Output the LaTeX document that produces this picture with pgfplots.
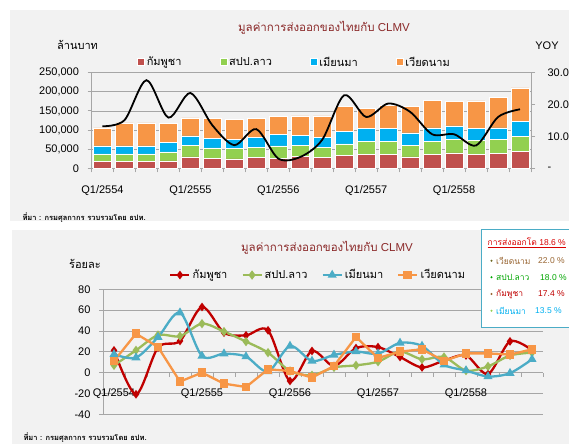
\documentclass[border=0pt]{standalone}
\usepackage{fontspec}
\usepackage{pgfplots}
\pgfplotsset{compat=1.18}
\setmainfont{Liberation Sans}
\newfontfamily\thai[Script=Thai]{Loma}
\definecolor{bgc}{HTML}{F2F2F2}
\definecolor{tc}{HTML}{C0504D}
\definecolor{tl}{HTML}{92D050}
\definecolor{tm}{HTML}{00B0F0}
\definecolor{tv}{HTML}{F79646}
\definecolor{bc}{HTML}{C00000}
\definecolor{bl}{HTML}{9BBB59}
\definecolor{bm}{HTML}{4BACC6}
\definecolor{bv}{HTML}{F79646}
\definecolor{ttl}{HTML}{8B2A2A}
\definecolor{gridc}{HTML}{A6A6A6}
\begin{document}
\begin{tikzpicture}[font=\fontsize{11}{13}\selectfont]
\path[use as bounding box] (0pt,0pt) rectangle (569pt,444pt);
\fill[white] (0pt,0pt) rectangle (569pt,444pt);
\fill[bgc] (10pt,223pt) rectangle (569pt,434pt);
\fill[bgc] (12pt,0pt) rectangle (569pt,214pt);
% ---------- top chart: bars ----------
\begin{axis}[
  at={(91.5pt,275.5pt)}, anchor=south west, scale only axis,
  width=439.5pt, height=96pt,
  xmin=0.5, xmax=20.5, ymin=0, ymax=250000,
  ybar stacked, bar width=0.8,
  axis x line*=bottom, axis y line*=left,
  axis line style={gridc, line width=0.8pt},
  tick align=outside, major tick length=4pt, minor tick length=4pt,
  tick style={gridc, line width=0.8pt},
  xtick={1,5,9,13,17},
  xticklabels={Q1/2554,Q1/2555,Q1/2556,Q1/2557,Q1/2558},
  major x tick style={draw=none},
  minor xtick={0.5,1.5,...,20.5},
  xticklabel style={yshift=-9pt},
  ytick={0,50000,100000,150000,200000,250000}, scaled y ticks=false,
  /pgf/number format/assume math mode=true,
  yticklabel style={xshift=-5pt, /pgf/number format/fixed, /pgf/number format/1000 sep={,}},
  ymajorgrids, grid style={gridc, line width=0.6pt},
  legend columns=4,
  legend style={at={(0.462,1.107)}, anchor=center, draw=none, fill=none,
    font=\thai\fontsize{11}{12}\selectfont,
    /tikz/every even column/.append style={column sep=36pt}},
  legend image code/.code={\fill[#1] (0pt,-3.5pt) rectangle (7pt,3.5pt);},
]
\addplot[fill=tc, draw=white, line width=0.5pt] coordinates {(1,18000) (2,18000) (3,18000) (4,20000) (5,30000) (6,26000) (7,25000) (8,29000) (9,27000) (10,32000) (11,28000) (12,34000) (13,37000) (14,37000) (15,30000) (16,37000) (17,41000) (18,37000) (19,39000) (20,44000)};
\addlegendentry{กัมพูชา}
\addplot[fill=tl, draw=white, line width=0.5pt] coordinates {(1,20000) (2,20000) (3,20000) (4,23500) (5,30000) (6,28000) (7,27000) (8,26000) (9,32000) (10,28000) (11,27000) (12,30000) (13,33000) (14,33000) (15,30000) (16,34000) (17,35000) (18,36000) (19,37000) (20,39000)};
\addlegendentry{สปป.ลาว}
\addplot[fill=tm, draw=white, line width=0.5pt] coordinates {(1,21000) (2,21000) (3,21000) (4,25500) (5,25000) (6,24000) (7,24000) (8,26000) (9,29000) (10,26000) (11,26000) (12,33000) (13,34000) (14,34000) (15,33000) (16,35000) (17,35000) (18,31000) (19,30000) (20,40000)};
\addlegendentry{เมียนมา}
\addplot[fill=tv, draw=white, line width=0.5pt] coordinates {(1,47000) (2,60000) (3,60000) (4,48000) (5,47000) (6,53000) (7,51000) (8,49000) (9,47000) (10,51000) (11,56000) (12,64000) (13,53000) (14,60000) (15,68000) (16,71000) (17,63000) (18,72000) (19,80000) (20,87000)};
\addlegendentry{เวียดนาม}
\end{axis}
% ---------- top chart: YOY line ----------
\begin{axis}[
  at={(91.5pt,275.5pt)}, anchor=south west, scale only axis,
  width=439.5pt, height=96pt,
  xmin=0.5, xmax=20.5, ymin=0, ymax=30,
  axis x line=none, axis y line*=right,
  axis line style={gridc, line width=0.8pt},
  tick align=outside, major tick length=4pt,
  tick style={gridc, line width=0.8pt},
  ytick={0,10,20,30}, yticklabels={-,10.0,20.0,30.0},
  yticklabel style={xshift=9pt},
]
\addplot[black, line width=1.8pt, smooth, mark=none] coordinates {(1,13.2) (2,15.1) (3,27.6) (4,15.9) (5,23.6) (6,13.5) (7,7.3) (8,12.3) (9,3.1) (10,3.6) (11,9.0) (12,22.9) (13,16.1) (14,20.3) (15,17.7) (16,10.7) (17,10.7) (18,7.2) (19,16.1) (20,18.5)};
\end{axis}
\node[text=ttl, font=\fontsize{11.5}{13}\selectfont] at (324pt,416pt) {{\thai มูลค่าการส่งออกของไทยกับ} CLMV};
\node at (77.5pt,399pt) {\thai ล้านบาท};
\node at (547pt,398pt) {YOY};
\node[anchor=west, font=\thai\bfseries\fontsize{7.5}{8}\selectfont] at (19pt,226pt) {ที่มา : กรมศุลกากร รวบรวมโดย ธปท.};
% ---------- bottom chart ----------
\begin{axis}[
  at={(103pt,29.7pt)}, anchor=south west, scale only axis,
  width=440pt, height=125pt,
  xmin=0.5, xmax=20.5, ymin=-40, ymax=80,
  axis x line*=middle, axis y line*=left,
  axis line style={gridc, line width=0.8pt},
  tick align=outside, major tick length=4pt, minor tick length=4pt,
  tick style={gridc, line width=0.8pt},
  xtick={1,5,9,13,17},
  xticklabels={Q1/2554,Q1/2555,Q1/2556,Q1/2557,Q1/2558},
  major x tick style={draw=none},
  minor xtick={0.5,1.5,...,20.5},
  xticklabel style={yshift=-8pt},
  ytick={-40,-20,0,20,40,60,80},
  /pgf/number format/assume math mode=true,
  yticklabel style={xshift=-5pt},
  ymajorgrids, grid style={gridc, line width=0.6pt},
  legend columns=4,
  legend style={at={(0.489,1.114)}, anchor=center, draw=none, fill=none,
    font=\thai\fontsize{11}{12}\selectfont,
    /tikz/every even column/.append style={column sep=12pt}},
  legend image code/.code={\draw[mark repeat=2,mark phase=2,#1] plot coordinates {(0pt,0pt) (9.5pt,0pt) (19pt,0pt)};},
]
\addplot[bc, line width=2.3pt, smooth, mark=diamond*, mark size=2.5pt] coordinates {(1,21.4) (2,-20.8) (3,24) (4,30.4) (5,63) (6,38.4) (7,35.8) (8,40.6) (9,-8) (10,20.8) (11,6.4) (12,23.5) (13,24.5) (14,15) (15,5) (16,11.5) (17,16.5) (18,-1.3) (19,30) (20,21.5)};
\addlegendentry{กัมพูชา}
\addplot[bl, line width=2.3pt, smooth, mark=diamond*, mark size=2.8pt] coordinates {(1,7) (2,21.4) (3,36) (4,35) (5,47) (6,39.4) (7,29.8) (8,19.2) (9,1.6) (10,-2.5) (11,5) (12,7) (13,10.5) (14,20.2) (15,12.8) (16,15) (17,2) (18,6) (19,16.5) (20,19.2)};
\addlegendentry{สปป.ลาว}
\addplot[bm, line width=2.3pt, smooth, mark=triangle*, mark size=3pt] coordinates {(1,17.6) (2,14.4) (3,34) (4,57.6) (5,16) (6,18.2) (7,15.4) (8,1) (9,25.6) (10,11.2) (11,17) (12,20.2) (13,18.2) (14,28.5) (15,25.6) (16,7.5) (17,2) (18,-3.7) (19,-0.5) (20,12.8)};
\addlegendentry{เมียนมา}
\addplot[bv, line width=2.3pt, mark=square*, mark size=3.3pt] coordinates {(1,11.2) (2,37.4) (3,24.6) (4,-8.6) (5,0) (6,-10.6) (7,-13.8) (8,3.2) (9,1.6) (10,-4.8) (11,6.4) (12,34.2) (13,14) (14,20.2) (15,22.4) (16,11.2) (17,18.5) (18,18.5) (19,17.3) (20,22.4)};
\addlegendentry{เวียดนาม}
\end{axis}
\node[text=ttl, font=\fontsize{11.5}{13}\selectfont] at (327pt,196pt) {{\thai มูลค่าการส่งออกของไทยกับ} CLMV};
\node at (85pt,180pt) {\thai ร้อยละ};
\node[anchor=west, font=\thai\bfseries\fontsize{7.5}{8}\selectfont] at (20pt,6.5pt) {ที่มา : กรมศุลกากร รวบรวมโดย ธปท.};
% ---------- annotation box ----------
\fill[white] (481.7pt,116.7pt) rectangle (575pt,214.7pt);
\draw[bm, line width=1.5pt] (481.7pt,116.7pt) rectangle (575pt,214.7pt);
\begin{scope}[every node/.style={anchor=west, inner sep=0pt, font=\fontsize{8.5}{10}\selectfont}]
\node[text=red!85!black] at (487.5pt,201.3pt) {\underline{{\thai การส่งออกโต} 18.6 \%}};
\fill[olive!70!black] (491.5pt,183.3pt) circle (1.1pt);
\node[text=brown!80!black] at (496pt,183.3pt) {\thai เวียดนาม};
\node[text=brown!80!black] at (538pt,183.3pt) {22.0 \%};
\fill[green!65!black] (491.5pt,166.7pt) circle (1.1pt);
\node[text=green!65!black] at (496pt,166.7pt) {\thai สปป.ลาว};
\node[text=green!65!black] at (540pt,166.7pt) {18.0 \%};
\fill[brown!80!black] (491.5pt,150pt) circle (1.1pt);
\node[text=bc] at (496pt,150pt) {\thai กัมพูชา};
\node[text=bc] at (538pt,150pt) {17.4 \%};
\fill[tl] (491.5pt,133.3pt) circle (1.1pt);
\node[text=tm] at (496pt,133.3pt) {\thai เมียนมา};
\node[text=tm] at (535pt,133.3pt) {13.5 \%};
\end{scope}
\end{tikzpicture}
\end{document}
